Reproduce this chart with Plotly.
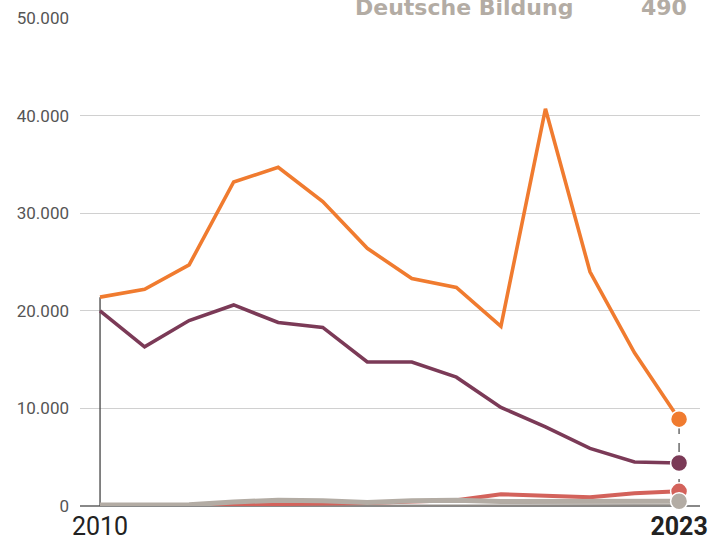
import plotly.graph_objects as go

years = list(range(2010, 2024))
orange_vals = [21400, 22200, 24700, 33200, 34700, 31200, 26400, 23300, 22400, 18400, 40700, 24000, 15700, 8900]
purple_vals = [20000, 16300, 19000, 20600, 18800, 18300, 14750, 14750, 13200, 10100, 8100, 5900, 4500, 4400]
red_vals = [0, 0, 50, 150, 200, 200, 300, 450, 600, 1200, 1100, 900, 1300, 1500]
gray_vals = [100, 100, 120, 400, 600, 550, 350, 550, 600, 450, 450, 400, 450, 490]
dark_vals = [0, 0, 0, 20, 30, 30, 40, 50, 60, 60, 60, 70, 70, 80]

y_ticks = [0, 10000, 20000, 30000, 40000, 50000]
y_ticktext = ["0", "10.000", "20.000", "30.000", "40.000", "50.000"]
x_ticks = [2010, 2023]
x_ticktext = ["2010", "<b>2023</b>"]

header_label = "Deutsche Bildung"
header_value = "490"

ORANGE = "#f07b2f"
PURPLE = "#7b3a57"
RED = "#d3625b"
GRAY = "#b3aca4"
DARK = "#8d8883"

fig = go.Figure()

# vertical guide at start
fig.add_trace(go.Scatter(x=[years[0], years[0]], y=[0, orange_vals[0]], mode="lines",
                         line=dict(color="#444444", width=1.3), hoverinfo="skip", showlegend=False))
# dashed guide at end
fig.add_trace(go.Scatter(x=[years[-1], years[-1]], y=[0, orange_vals[-1]], mode="lines",
                         line=dict(color="#555555", width=1.3, dash="dash"), hoverinfo="skip", showlegend=False))

series = [
    ("Sonstige", dark_vals, DARK, 2),
    ("Reihe Rot", red_vals, RED, 4),
    (header_label, gray_vals, GRAY, 5),
    ("Reihe Lila", purple_vals, PURPLE, 3.6),
    ("Reihe Orange", orange_vals, ORANGE, 3.6),
]
for name, vals, col, w in series:
    fig.add_trace(go.Scatter(x=years, y=vals, mode="lines", name=name,
                             line=dict(color=col, width=w), showlegend=False, cliponaxis=False))

for name, vals, col, w in series[1:]:
    fig.add_trace(go.Scatter(x=[years[-1]], y=[vals[-1]], mode="markers",
                             marker=dict(color=col, size=17, line=dict(color="white", width=1.5)),
                             showlegend=False, cliponaxis=False))

fig.update_layout(
    width=713, height=540,
    margin=dict(l=80, r=13, t=18, b=34, autoexpand=False),
    paper_bgcolor="white", plot_bgcolor="white",
    font=dict(family="Roboto, Arial, sans-serif"),
    xaxis=dict(range=[2009.55, 2023.47], tickvals=x_ticks, ticktext=x_ticktext,
               showgrid=False, zeroline=False, showline=False, ticks="", automargin=False,
               tickfont=dict(size=25, color="#222222"), ticklabelstandoff=3),
    yaxis=dict(range=[0, 50000], tickvals=y_ticks, ticktext=y_ticktext,
               showgrid=True, gridcolor="#d0d0d0", gridwidth=1, automargin=False,
               zeroline=True, zerolinecolor="#888888", zerolinewidth=1.5,
               showline=False, ticks="", ticklabelstandoff=10,
               tickfont=dict(size=17, color="#555555")),
    annotations=[
        dict(text="<b>" + header_label + "</b>", xref="paper", yref="paper", x=0.62, y=1.021,
             xanchor="center", yanchor="middle", showarrow=False,
             font=dict(size=22, color=GRAY, family="DejaVu Sans")),
        dict(text="<b>" + header_value + "</b>", xref="paper", yref="paper", x=0.983, y=1.021,
             xanchor="right", yanchor="middle", showarrow=False,
             font=dict(size=22, color=GRAY, family="DejaVu Sans")),
    ],
)

fig.write_html("out.html", config={"displayModeBar": False},
               post_script="document.body.style.margin='0';")
